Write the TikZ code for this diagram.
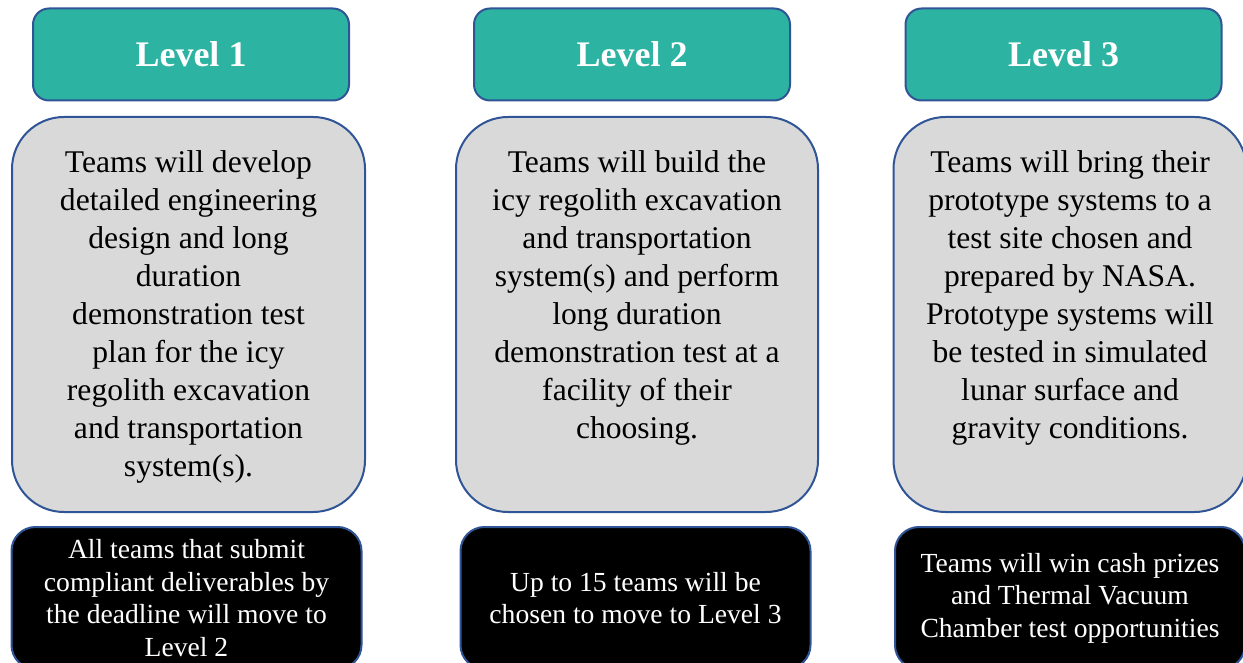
\documentclass[tikz,border=0pt]{standalone}
\usepackage{fontspec}
\setmainfont{Liberation Serif}
\definecolor{lvlteal}{HTML}{2DB3A2}
\definecolor{edgeblue}{HTML}{2F5597}
\definecolor{descgray}{HTML}{D9D9D9}
\begin{document}
\begin{tikzpicture}[x=0.5pt, y=-0.5pt,
  lvl/.style={draw=edgeblue, line width=1pt, fill=lvlteal, rounded corners=8pt,
    minimum width=158pt, minimum height=46pt, text=white,
    font=\fontsize{18}{21}\selectfont\bfseries},
  desc/.style={draw=edgeblue, line width=1pt, fill=descgray, rounded corners=26pt,
    minimum width=176.5pt, minimum height=197.5pt},
  desctext/.style={anchor=north, align=center, inner sep=0pt,
    font=\fontsize{15.8}{19}\selectfont},
  note/.style={draw=edgeblue, line width=1pt, fill=black, rounded corners=12pt,
    minimum width=175pt, minimum height=71pt, text=white, align=center,
    font=\fontsize{13.8}{16.2}\selectfont}]
\useasboundingbox (0,0) rectangle (1243,663);
\clip (0,0) rectangle (1243,663);
% --- level headers ---
\node[lvl] (l1) at (191,54.5)    {Level 1};
\node[lvl] (l2) at (632,54.5)    {Level 2};
\node[lvl] (l3) at (1063.5,54.5) {Level 3};
% --- what each level asks for ---
\node[desc] (d1) at (188.5,314.5) {};
\node[desc, minimum width=181pt] (d2) at (637,314.5) {};
\node[desc] (d3) at (1070,314.5)  {};
\node[desctext] (t1) at (188.5,150) {Teams will develop\\detailed engineering\\design and long\\duration\\demonstration test\\plan for the icy\\regolith excavation\\and transportation\\system(s).};
\node[desctext] (t2) at (637,150) {Teams will build the\\icy regolith excavation\\and transportation\\system(s) and perform\\long duration\\demonstration test at a\\facility of their\\choosing.};
\node[desctext] (t3) at (1070,150)  {Teams will bring their\\prototype systems to a\\test site chosen and\\prepared by NASA.\\Prototype systems will\\be tested in simulated\\lunar surface and\\gravity conditions.};
% --- outcome of each level ---
\node[note] (n1) at (186.5,598) {All teams that submit\\compliant deliverables by\\the deadline will move to\\Level 2};
\node[note] (n2) at (635.5,598) {Up to 15 teams will be\\chosen to move to Level 3};
\node[note] (n3) at (1070,598)  {Teams will win cash prizes\\and Thermal Vacuum\\Chamber test opportunities};
\end{tikzpicture}
\end{document}
